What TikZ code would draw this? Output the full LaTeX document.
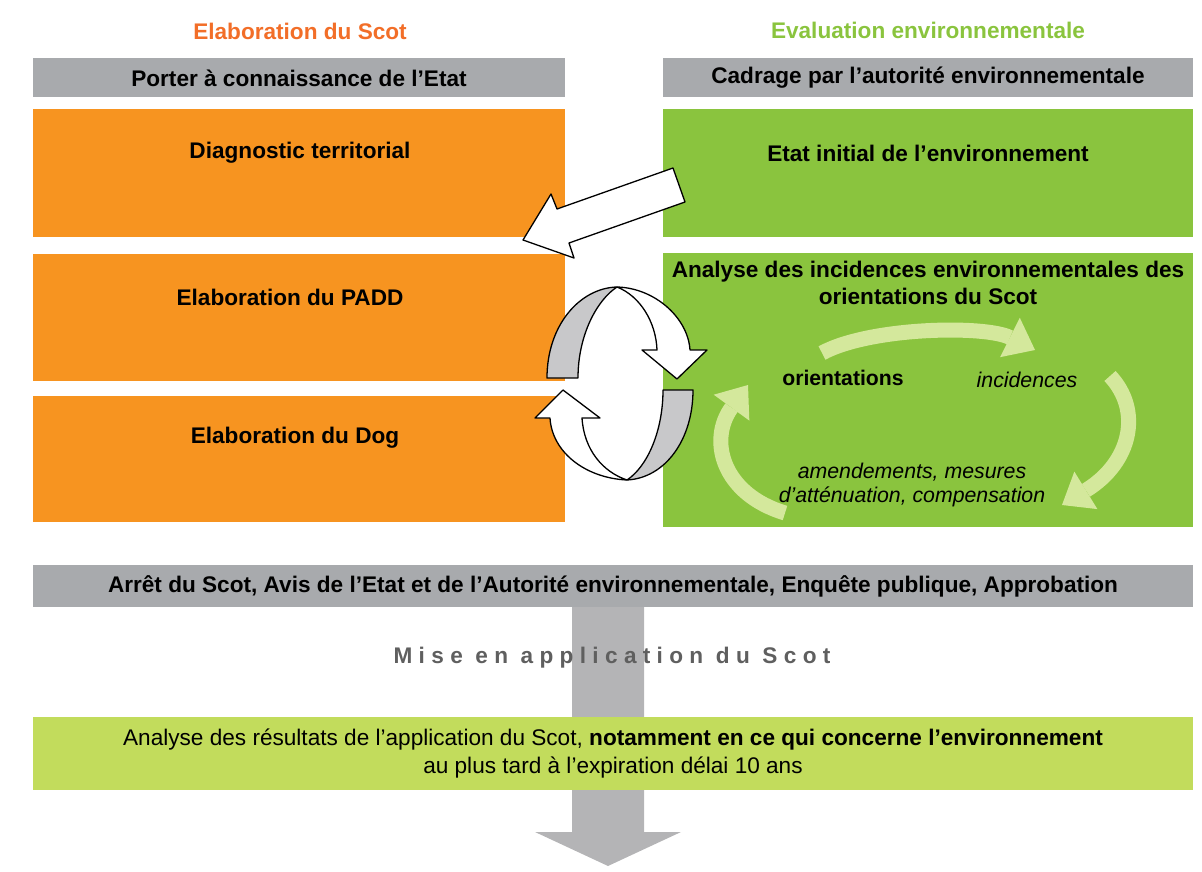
\documentclass[tikz,border=0pt]{standalone}
\usepackage{fontspec}
\setmainfont{Liberation Sans}
\usetikzlibrary{arrows.meta}

\definecolor{scotorange}{RGB}{247,148,32}
\definecolor{scotred}{RGB}{242,110,40}
\definecolor{envgreen}{RGB}{138,196,62}
\definecolor{bargray}{RGB}{168,170,173}
\definecolor{shaftgray}{RGB}{180,180,182}
\definecolor{palegreen}{RGB}{212,232,156}
\definecolor{limegreen}{RGB}{194,220,92}
\definecolor{textgray}{RGB}{95,95,95}
\definecolor{backgray}{RGB}{200,200,202}

\begin{document}
\begin{tikzpicture}[x=1pt, y=-1pt,
    every node/.style={inner sep=0pt, font=\fontsize{22.6}{28}\selectfont},
    title/.style={font=\fontsize{22.6}{28}\selectfont\bfseries},
    bar/.style={fill=bargray, minimum height=39pt},
    obox/.style={fill=scotorange, minimum width=532pt},
    gbox/.style={fill=envgreen, minimum width=530pt},
    boxtext/.style={font=\fontsize{22.6}{27}\selectfont\bfseries, align=center},
    cycletext/.style={font=\fontsize{21.3}{24}\selectfont\itshape, align=center},
    loop/.style={draw=black, line width=1.3pt, line join=round},
    cycle/.style={draw=palegreen, line width=15pt, -{Triangle[length=28pt, width=44pt, line width'=0pt]}}]
    \useasboundingbox (0,0) rectangle (1202,872);

    % Column titles
    \node[title, text=scotred] (titleL) at (300,31) {Elaboration du Scot};
    \node[title, text=envgreen] (titleR) at (928,30) {Evaluation environnementale};

    % Vertical arrow behind everything
    \coordinate (shafttop) at (608,600);
    \coordinate (shaftend) at (608,866);
    \fill[shaftgray] (572,600) -- (644,600) -- (644,832) -- (681,832) -- (shaftend) -- (535,832) -- (572,832) -- cycle;

    % Gray bars
    \node[bar, minimum width=532pt, boxtext] (porter) at (299,78) {Porter à connaissance de l’Etat};
    \node[bar, minimum width=530pt, boxtext] (cadrage) at (928,78) {Cadrage par l’autorité environnementale};

    % Elaboration du Scot
    \node[obox, minimum height=127pt] (diag) at (299,173) {};
    \node[obox, minimum height=127pt] (padd) at (299,317) {};
    \node[obox, minimum height=126pt] (dog) at (299,459) {};
    \node[boxtext] (diagtxt) at (300,153) {Diagnostic territorial};
    \node[boxtext] (paddtxt) at (290,297) {Elaboration du PADD};
    \node[boxtext] (dogtxt) at (295,438) {Elaboration du Dog};

    % Evaluation environnementale
    \node[gbox, minimum height=127pt] (etat) at (928,173) {};
    \node[gbox, minimum height=274pt] (analyse) at (928,390) {};
    \node[boxtext] (etattxt) at (928,153) {Etat initial de l’environnement};
    \node[boxtext] (analysetxt) at (928,283) {Analyse des incidences environnementales des\\orientations du Scot};

    % Block arrow from the initial state to the diagnosis
    \draw[loop, fill=white] (685,202) -- (673,168) -- (557,209) -- (551,194) -- (523,240)
        -- (574,258) -- (569,243) -- cycle;

    % Loop between PADD/Dog and the analysis
    \draw[loop, fill=backgray] (547,378) .. controls (547,325) and (580,288) .. (617,287)
        .. controls (597,300) and (578,335) .. (578,378) -- cycle;
    \draw[loop, fill=white] (617,287) .. controls (655,288) and (688,318) .. (690,350)
        -- (707,350) -- (677,379) -- (642,350) -- (657,350)
        .. controls (656,322) and (640,296) .. (617,287) -- cycle;
    \draw[loop, fill=backgray] (663,390) -- (693,390) .. controls (693,440) and (665,478) .. (627,480)
        .. controls (648,466) and (663,430) .. (663,390) -- cycle;
    \draw[loop, fill=white] (627,480) .. controls (585,478) and (552,452) .. (550,418)
        -- (535,418) -- (563,390) -- (600,418) -- (582,418)
        .. controls (584,450) and (603,472) .. (627,480) -- cycle;

    % Cycle inside the analysis box
    \draw[cycle] (822,353) .. controls (870,327) and (985,325) .. (1035,350);
    \draw[cycle] (1110,376) .. controls (1142,410) and (1132,462) .. (1062,505);
    \draw[cycle] (785,513) .. controls (722,494) and (708,440) .. (748,385);
    \node[boxtext, font=\fontsize{21.2}{24}\selectfont\bfseries] (orient) at (843,378) {orientations};
    \node[cycletext] (incid) at (1027,380) {incidences};
    \node[cycletext] (amend) at (912,485) {amendements, mesures\\d’atténuation, compensation};

    % Approval and monitoring
    \node[bar, minimum width=1160pt, minimum height=42pt, boxtext] (arret) at (613,586)
        {Arrêt du Scot, Avis de l’Etat et de l’Autorité environnementale, Enquête publique, Approbation};
    \node[text=textgray, font=\fontsize{22.6}{28}\selectfont\bfseries\addfontfeature{LetterSpace=28}] (mise) at (612,658) {Mise en application du Scot};
    \node[fill=limegreen, minimum width=1160pt, minimum height=73pt, align=center] (bilan) at (613,753.5)
        {Analyse des résultats de l’application du Scot, \textbf{notamment en ce qui concerne l’environnement}\\au plus tard à l’expiration délai 10 ans};
\end{tikzpicture}
\end{document}
